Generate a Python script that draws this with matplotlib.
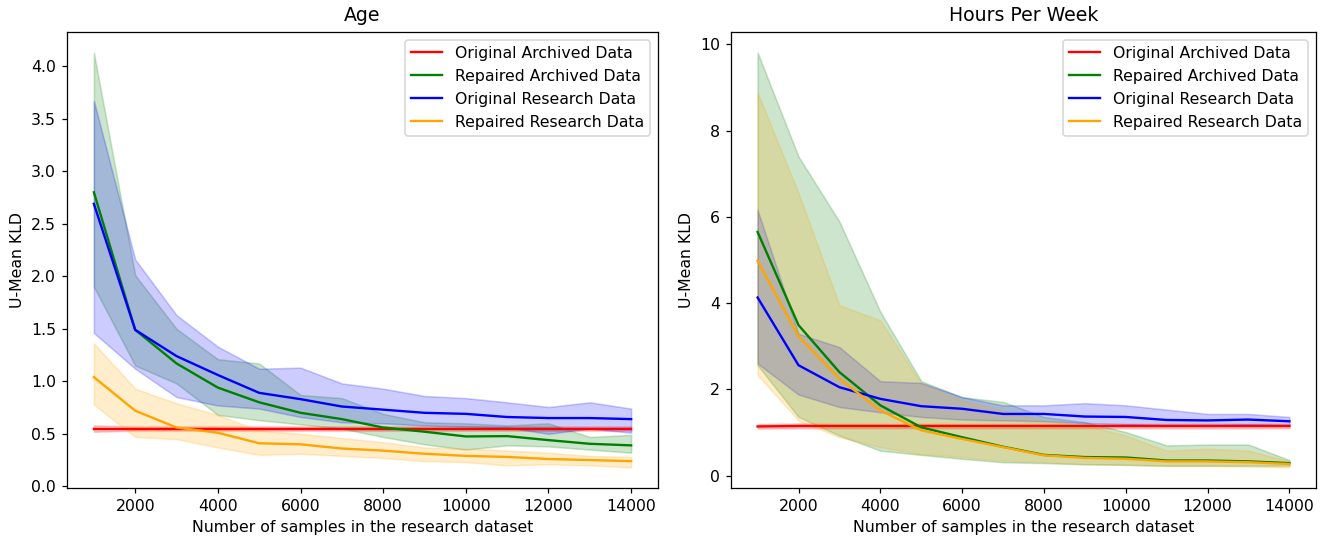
import matplotlib
matplotlib.use("Agg")
import matplotlib.pyplot as plt

samples = [1000, 2000, 3000, 4000, 5000, 6000, 7000, 8000, 9000, 10000, 11000, 12000, 13000, 14000]
labels = ['Original Archived Data', 'Repaired Archived Data', 'Original Research Data', 'Repaired Research Data']
colors = ['red', 'green', 'blue', 'orange']

# Age
age_orig_arch = [0.55, 0.55, 0.55, 0.55, 0.55, 0.55, 0.55, 0.55, 0.55, 0.55, 0.55, 0.55, 0.55, 0.55]
age_orig_arch_lo = [0.52, 0.53, 0.53, 0.53, 0.53, 0.53, 0.53, 0.53, 0.53, 0.53, 0.53, 0.53, 0.53, 0.53]
age_orig_arch_hi = [0.58, 0.57, 0.57, 0.57, 0.57, 0.57, 0.57, 0.57, 0.57, 0.57, 0.57, 0.57, 0.57, 0.57]

age_rep_arch = [2.80, 1.49, 1.17, 0.94, 0.80, 0.70, 0.64, 0.56, 0.52, 0.475, 0.478, 0.44, 0.405, 0.39]
age_rep_arch_lo = [1.90, 1.15, 0.98, 0.68, 0.63, 0.59, 0.55, 0.47, 0.40, 0.35, 0.39, 0.38, 0.35, 0.32]
age_rep_arch_hi = [4.13, 2.01, 1.50, 1.21, 1.17, 0.87, 0.84, 0.69, 0.61, 0.60, 0.58, 0.60, 0.47, 0.49]

age_orig_res = [2.69, 1.49, 1.24, 1.06, 0.89, 0.83, 0.76, 0.73, 0.70, 0.69, 0.66, 0.65, 0.65, 0.64]
age_orig_res_lo = [1.46, 1.12, 0.85, 0.77, 0.74, 0.66, 0.61, 0.60, 0.58, 0.57, 0.56, 0.50, 0.55, 0.51]
age_orig_res_hi = [3.67, 2.16, 1.63, 1.33, 1.12, 1.13, 0.98, 0.93, 0.86, 0.84, 0.80, 0.755, 0.80, 0.74]

age_rep_res = [1.04, 0.72, 0.56, 0.51, 0.41, 0.40, 0.36, 0.34, 0.31, 0.29, 0.28, 0.26, 0.25, 0.24]
age_rep_res_lo = [0.78, 0.47, 0.45, 0.37, 0.30, 0.31, 0.29, 0.27, 0.24, 0.23, 0.20, 0.21, 0.20, 0.18]
age_rep_res_hi = [1.36, 0.93, 0.79, 0.68, 0.53, 0.50, 0.46, 0.42, 0.37, 0.36, 0.34, 0.32, 0.29, 0.28]

# Hours Per Week
hpw_orig_arch = [1.14, 1.15, 1.15, 1.15, 1.15, 1.15, 1.15, 1.15, 1.15, 1.15, 1.15, 1.15, 1.15, 1.15]
hpw_orig_arch_lo = [1.09, 1.10, 1.10, 1.10, 1.10, 1.10, 1.10, 1.10, 1.10, 1.10, 1.10, 1.10, 1.10, 1.10]
hpw_orig_arch_hi = [1.19, 1.21, 1.20, 1.20, 1.20, 1.20, 1.20, 1.20, 1.20, 1.20, 1.20, 1.20, 1.20, 1.20]

hpw_rep_arch = [5.65, 3.49, 2.40, 1.63, 1.12, 0.89, 0.67, 0.48, 0.43, 0.42, 0.35, 0.35, 0.33, 0.29]
hpw_rep_arch_lo = [2.56, 1.36, 0.93, 0.58, 0.48, 0.39, 0.31, 0.29, 0.26, 0.25, 0.23, 0.23, 0.23, 0.23]
hpw_rep_arch_hi = [9.81, 7.40, 5.89, 3.80, 2.19, 1.82, 1.71, 1.36, 1.24, 1.01, 0.70, 0.72, 0.72, 0.36]

hpw_orig_res = [4.13, 2.56, 2.05, 1.78, 1.61, 1.55, 1.43, 1.43, 1.37, 1.36, 1.29, 1.28, 1.30, 1.26]
hpw_orig_res_lo = [2.60, 1.88, 1.59, 1.47, 1.36, 1.30, 1.28, 1.26, 1.22, 1.19, 1.16, 1.16, 1.19, 1.16]
hpw_orig_res_hi = [6.16, 3.29, 2.98, 2.19, 2.15, 1.82, 1.63, 1.63, 1.68, 1.63, 1.53, 1.43, 1.43, 1.36]

hpw_rep_res = [4.98, 3.23, 2.25, 1.51, 1.05, 0.85, 0.66, 0.47, 0.41, 0.39, 0.33, 0.33, 0.31, 0.27]
hpw_rep_res_lo = [2.33, 1.28, 0.89, 0.66, 0.50, 0.43, 0.35, 0.31, 0.27, 0.25, 0.22, 0.22, 0.21, 0.19]
hpw_rep_res_hi = [8.88, 6.55, 3.95, 3.60, 2.13, 1.74, 1.51, 1.28, 1.16, 0.93, 0.58, 0.62, 0.58, 0.33]

panels = [
    ('Age', [
        (age_orig_arch, age_orig_arch_lo, age_orig_arch_hi),
        (age_rep_arch, age_rep_arch_lo, age_rep_arch_hi),
        (age_orig_res, age_orig_res_lo, age_orig_res_hi),
        (age_rep_res, age_rep_res_lo, age_rep_res_hi),
    ]),
    ('Hours Per Week', [
        (hpw_orig_arch, hpw_orig_arch_lo, hpw_orig_arch_hi),
        (hpw_rep_arch, hpw_rep_arch_lo, hpw_rep_arch_hi),
        (hpw_orig_res, hpw_orig_res_lo, hpw_orig_res_hi),
        (hpw_rep_res, hpw_rep_res_lo, hpw_rep_res_hi),
    ]),
]

# reference looks like a slightly upscaled render, so use a higher dpi
fig, axes = plt.subplots(1, 2, figsize=(1329 / 113, 540 / 113), dpi=113)

# axes boxes in figure fractions (left, bottom, width, height)
axes[0].set_position([67 / 1329, 0.096, 591 / 1329, 0.845])
axes[1].set_position([731 / 1329, 0.096, 585 / 1329, 0.845])

for ax, (title, series) in zip(axes, panels):
    for (mean, lo, hi), label, color in zip(series, labels, colors):
        ax.plot(samples, mean, color=color, label=label)
        ax.fill_between(samples, lo, hi, color=color, alpha=0.2)
    ax.set_title(title, pad=7)
    ax.set_xlabel('Number of samples in the research dataset')
    ax.set_ylabel('U-Mean KLD')
    ax.legend(loc='upper right')

plt.savefig('out.png', dpi=113)
